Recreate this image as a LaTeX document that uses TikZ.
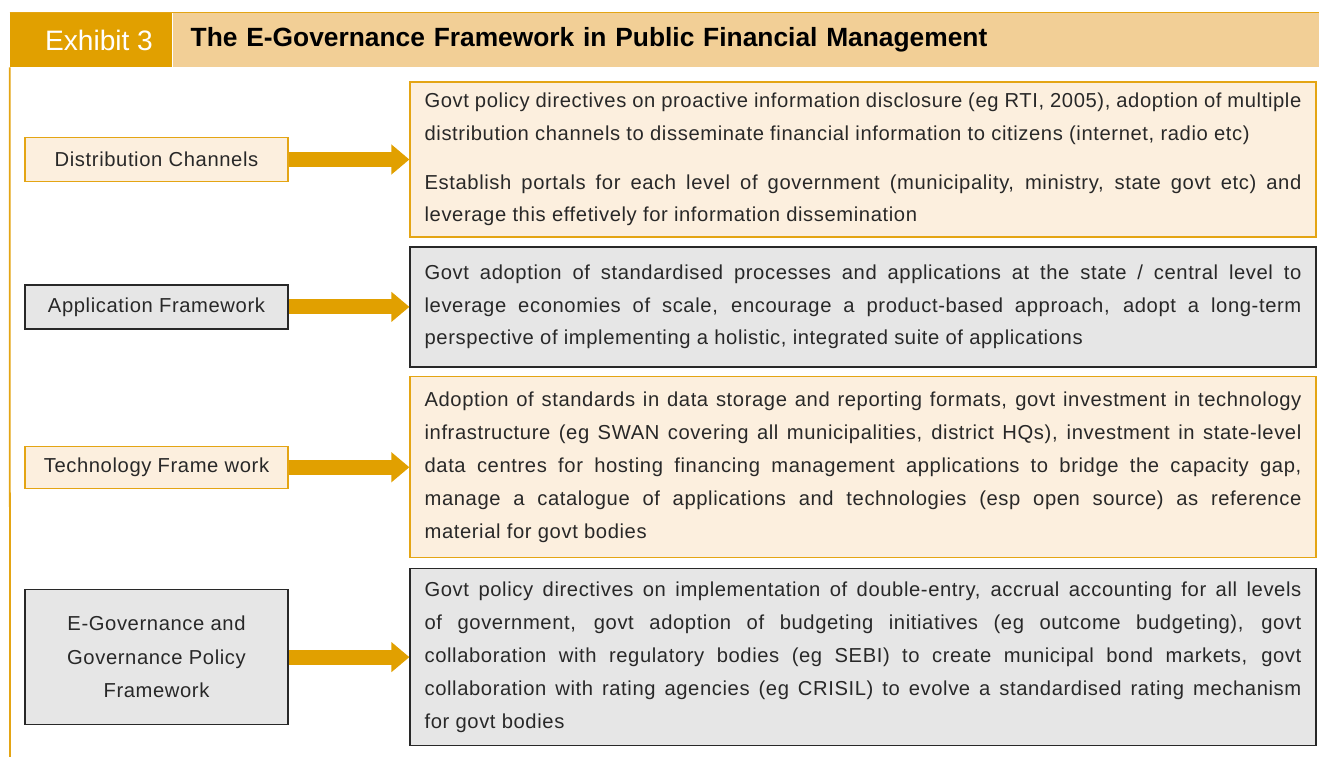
\documentclass[tikz,border=0pt]{standalone}
\usepackage{fontspec}
\setmainfont{Liberation Sans}[LetterSpace=3]
\newfontfamily\hdrfont{Liberation Sans}
\usepackage{tikz}
\usepackage{xcolor}
\usetikzlibrary{shapes,arrows.meta,positioning}
\definecolor{hdrdark}{RGB}{225, 160, 0}
\definecolor{hdrlight}{RGB}{242, 207, 150}
\definecolor{boxlight}{RGB}{252, 239, 222}
\definecolor{boxgray}{RGB}{230, 230, 230}
\definecolor{edgeorange}{RGB}{228, 165, 20}
\definecolor{edgegray}{RGB}{40, 40, 40}
\definecolor{txt}{RGB}{40, 40, 40}
\tikzstyle{arrow} = [
    line width=0.3cm,
    draw=hdrdark,
    -{Triangle[length=0.36cm,width=0.58cm]}
]
\tikzstyle{side} = [
    rectangle,
    minimum width=5.26cm,
    minimum height=0.88cm,
    align=center,
    text=txt,
    line width=0.8pt,
    font=\fontsize{11.5}{19}\selectfont
]
\tikzstyle{detail} = [
    rectangle,
    text width=17.54cm,
    inner xsep=0.29cm,
    align=justify,
    text=txt,
    line width=0.8pt,
    font=\fontsize{11.5}{18.7}\selectfont
]
\tikzstyle{warm} = [draw=edgeorange, fill=boxlight]
\tikzstyle{cool} = [draw=edgegray, fill=boxgray]

\begin{document}
\begin{tikzpicture}[x=0.02cm,y=-0.02cm]
        \useasboundingbox (0,0) rectangle (1319,757);
        % Header
        \node[fill=hdrdark, minimum width=3.24cm, minimum height=1.08cm, inner sep=0pt,
              text=white, font=\hdrfont\fontsize{16}{18}\selectfont] (exh) at (91,40) {\hspace*{0.32cm}Exhibit 3};
        \node[fill=hdrlight, minimum height=1.08cm, text width=22.22cm, inner xsep=0.36cm,
              inner ysep=0pt, align=left, font=\hdrfont\bfseries\fontsize{15}{18}\selectfont,
              right=0pt of exh] (title) {The E-Governance Framework in Public Financial Management};
        \draw[edgeorange, line width=0.8pt] (exh.north west) -- (title.north east);
        \draw[edgeorange, line width=1pt] (exh.south west) -- (10,757);

        % Right column
        \node[detail, warm, minimum height=3.1cm] (r1) at (863,159.5) {Govt policy directives on proactive information disclosure (eg RTI, 2005), adoption of multiple \linebreak distribution channels to disseminate financial information to citizens (internet, radio etc)\\[9pt]
        Establish portals for each level of government (municipality, ministry, state govt etc) and \linebreak leverage this effetively for information dissemination};
        \node[detail, cool, minimum height=2.4cm, below=0.17cm of r1] (r2) {Govt adoption of standardised processes and applications at the state / central level to \linebreak leverage economies of scale, encourage a product-based approach, adopt a long-term \linebreak perspective of implementing a holistic, integrated suite of applications};
        \node[detail, warm, minimum height=3.62cm, below=0.17cm of r2] (r3) {Adoption of standards in data storage and reporting formats, govt investment in technology \linebreak infrastructure (eg SWAN covering all municipalities, district HQs), investment in state-level \linebreak data centres for hosting financing management applications to bridge the capacity gap, \linebreak manage a catalogue of applications and technologies (esp open source) as reference \linebreak material for govt bodies};
        \node[detail, cool, minimum height=3.54cm, below=0.19cm of r3] (r4) {Govt policy directives on implementation of double-entry, accrual accounting for all levels \linebreak of government, govt adoption of budgeting initiatives (eg outcome budgeting), govt \linebreak collaboration with regulatory bodies (eg SEBI) to create municipal bond markets, govt \linebreak collaboration with rating agencies (eg CRISIL) to evolve a standardised rating mechanism \linebreak for govt bodies};

        % Left column
        \coordinate (lcol) at (156.5,0);
        \node[side, warm] (dist) at (lcol |- r1) {Distribution Channels};
        \node[side, cool] (app) at (lcol |- r2) {Application Framework};
        \node[side, warm, minimum height=0.84cm] (tech) at (lcol |- r3) {Technology Frame work};
        \node[side, cool, minimum height=2.7cm] (egov) at (lcol |- r4) {E-Governance and\\Governance Policy\\Framework};

        % Arrows
        \draw[arrow] (dist.east) -- (dist.east -| r1.west);
        \draw[arrow] (app.east) -- (app.east -| r2.west);
        \draw[arrow] (tech.east) -- (tech.east -| r3.west);
        \draw[arrow] (egov.east) -- (egov.east -| r4.west);
    \end{tikzpicture}
\end{document}
